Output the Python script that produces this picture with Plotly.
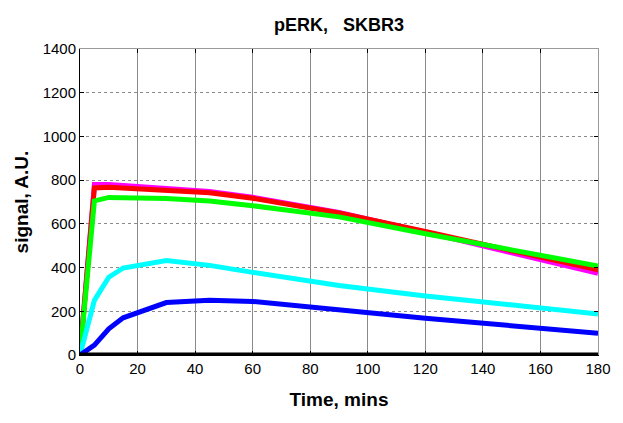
import plotly.graph_objects as go

# pERK time course in SKBR3 cells (signal in arbitrary units)
time_min = [0, 5, 10, 15, 30, 45, 60, 90, 120, 180]
series_magenta = [0, 780, 780, 775, 762, 748, 722, 652, 562, 374]
series_red = [0, 764, 767, 763, 753, 742, 717, 650, 565, 390]
series_green = [0, 705, 721, 721, 716, 705, 683, 632, 555, 407]
series_cyan = [0, 250, 356, 398, 432, 410, 378, 318, 270, 188]
series_blue = [0, 45, 120, 170, 240, 250, 245, 205, 168, 100]
series_black = [0, 0, 0, 0, 0, 0, 0, 0, 0, 0]

x_ticks = [0, 20, 40, 60, 80, 100, 120, 140, 160, 180]
y_ticks = [0, 200, 400, 600, 800, 1000, 1200, 1400]

FONT = "Arial, Liberation Sans, Helvetica, sans-serif"

fig = go.Figure()
for values, color in [
    (series_magenta, "#ff00ff"),
    (series_red, "#ff0000"),
    (series_green, "#00ff00"),
    (series_cyan, "#00ffff"),
    (series_blue, "#0000ff"),
    (series_black, "#000000"),
]:
    fig.add_trace(go.Scatter(x=time_min, y=values, mode="lines",
                             line=dict(color=color, width=5),
                             showlegend=False, hoverinfo="skip"))

# empty trace so the top/right box axes are drawn
fig.add_trace(go.Scatter(x=[], y=[], xaxis="x2", yaxis="y2", showlegend=False))

fig.update_layout(
    width=623, height=423,
    margin=dict(l=80, r=14, t=49, b=68),
    paper_bgcolor="white", plot_bgcolor="white",
    font=dict(family=FONT, color="black", size=14),
    title=dict(text="<b>pERK,   SKBR3</b>", x=0.5, xanchor="center",
               xref="paper", y=1 - 25 / 423, yanchor="middle",
               font=dict(size=18, family=FONT, color="black")),
    xaxis=dict(range=[0, 180], tickvals=x_ticks, ticks="inside", ticklen=4,
               tickcolor="black", showline=True, linecolor="black", linewidth=1,
               showgrid=True, gridcolor="#8a8a8a", gridwidth=1,
               zeroline=False, tickfont=dict(size=15),
               title=dict(text="<b>Time, mins</b>", font=dict(size=19), standoff=16)),
    yaxis=dict(range=[0, 1400], tickvals=y_ticks, ticks="inside", ticklen=4,
               tickcolor="black", showline=True, linecolor="black", linewidth=1,
               showgrid=True, gridcolor="#8a8a8a", gridwidth=1, griddash="dot",
               zeroline=False, tickfont=dict(size=15),
               title=dict(text="<b>signal, A.U.</b>", font=dict(size=19), standoff=8)),
    xaxis2=dict(overlaying="x", matches="x", side="top", range=[0, 180],
                tickvals=x_ticks, ticks="inside", ticklen=4, tickcolor="black",
                showticklabels=False, showline=True, linecolor="#9a9a9a",
                showgrid=False, zeroline=False),
    yaxis2=dict(overlaying="y", matches="y", side="right", range=[0, 1400],
                tickvals=y_ticks, ticks="inside", ticklen=4, tickcolor="black",
                showticklabels=False, showline=True, linecolor="#9a9a9a",
                showgrid=False, zeroline=False),
)

fig.write_html("out.html")
